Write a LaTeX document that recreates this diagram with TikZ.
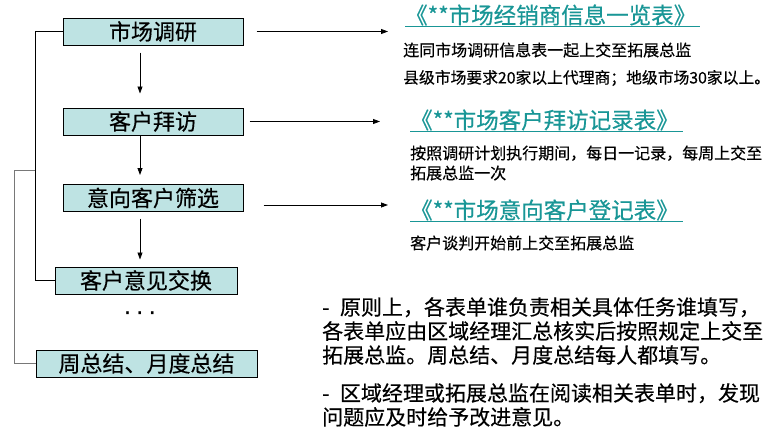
\documentclass[tikz,border=0pt]{standalone}
\usepackage{fontspec}
\setmainfont{Noto Sans CJK SC}[FakeBold=0.4]
\newfontfamily\latinfont{Liberation Sans}
\usetikzlibrary{arrows.meta}
\definecolor{boxfill}{RGB}{190,227,227}
\definecolor{titleteal}{RGB}{25,150,150}
\definecolor{linkgray}{RGB}{120,120,120}
\tikzset{
  stepbox/.style={draw=black, line width=1pt, fill=boxfill, minimum height=27pt,
    inner sep=0pt, font=\fontsize{22}{24}\selectfont},
  flowarrow/.style={line width=0.8pt, -{Triangle[length=7pt,width=5pt]}},
  titletext/.style={anchor=west, text=titleteal, inner xsep=0pt, inner ysep=1pt,
    font=\fontsize{22.5}{24}\selectfont},
  titleline/.style={draw=titleteal, line width=1pt},
  desctext/.style={anchor=west, inner sep=0pt, align=left,
    font=\fontsize{16}{20}\selectfont},
  bodytext/.style={anchor=west, inner sep=0pt, align=left,
    font=\fontsize{21}{24}\selectfont},
  bracket/.style={line width=1pt}
}
\begin{document}
\begin{tikzpicture}[x=1pt,y=-1pt]
\useasboundingbox (0,0) rectangle (774,431);

% boxes
\node[stepbox, minimum width=180pt] (b1) at (153,31.5) {市场调研};
\node[stepbox, minimum width=180pt] (b2) at (153,121.5) {客户拜访};
\node[stepbox, minimum width=180pt] (b3) at (153,198) {意向客户筛选};
\node[stepbox, minimum width=182pt] (b4) at (146,280.5) {客户意见交换};
\node[stepbox, minimum width=221pt] (b5) at (146.5,363.5) {周总结、月度总结};
\node[inner sep=0pt, font=\latinfont\fontsize{27}{27}\selectfont] (dots) at (140,316) {·\hspace{3.5pt}·\hspace{3.5pt}·};

% vertical flow arrows
\coordinate (ax) at (140,0);
\draw[flowarrow, shorten <=7pt, shorten >=14pt] (b1.south -| ax) -- (b2.north -| ax);
\draw[flowarrow, shorten >=9pt] (b2.south -| ax) -- (b3.north -| ax);
\draw[flowarrow, shorten <=6.5pt, shorten >=7pt] (b3.south -| ax) -- (b4.north -| ax);

% left brackets
\coordinate (j) at (35,170);
\draw[bracket] (b1.west) -- (35,31.5) |- (b4.west);
\draw[bracket, draw=linkgray] (j) -- (14,170) |- (b5.west);

% right arrows
\coordinate (e1) at (388,31.5);
\coordinate (e2) at (380,121.5);
\coordinate (e3) at (388,205);
\draw[flowarrow, shorten <=13pt] (b1.east) -- (e1);
\draw[flowarrow, shorten <=6pt] (b2.east) -- (e2);
\draw[flowarrow, shorten <=20pt] ([yshift=-7pt]b3.east) -- (e3);

% titles
\node[titletext] (t1) at (405,15) {《**市场经销商信息一览表》};
\node[titletext] (t2) at (410,120) {《**市场客户拜访记录表》};
\node[titletext] (t3) at (410,210) {《**市场意向客户登记表》};
\draw[titleline] (t1.south west) -- ([xshift=4pt]t1.south east);
\draw[titleline] (t2.south west) -- ([xshift=4pt]t2.south east);
\draw[titleline] (t3.south west) -- ([xshift=4pt]t3.south east);

% descriptions
\node[desctext] (d1) at (403,50) {连同市场调研信息表一起上交至拓展总监};
\node[desctext, font=\fontsize{15.8}{20}\selectfont] (d2) at (403,78) {县级市场要求20家以上代理商；地级市场30家以上。};
\node[desctext] (d3) at (410,163) {按照调研计划执行期间，每日一记录，每周上交至\\拓展总监一次};
\node[desctext] (d5) at (410,243) {客户谈判开始前上交至拓展总监};

% notes
\node[bodytext] (p1) at (322,331) {-\enspace 原则上，各表单谁负责相关具体任务谁填写，\\各表单应由区域经理汇总核实后按照规定上交至\\拓展总监。周总结、月度总结每人都填写。};
\node[bodytext] (p2) at (322,405) {-\enspace 区域经理或拓展总监在阅读相关表单时，发现\\问题应及时给予改进意见。};
\end{tikzpicture}
\end{document}
